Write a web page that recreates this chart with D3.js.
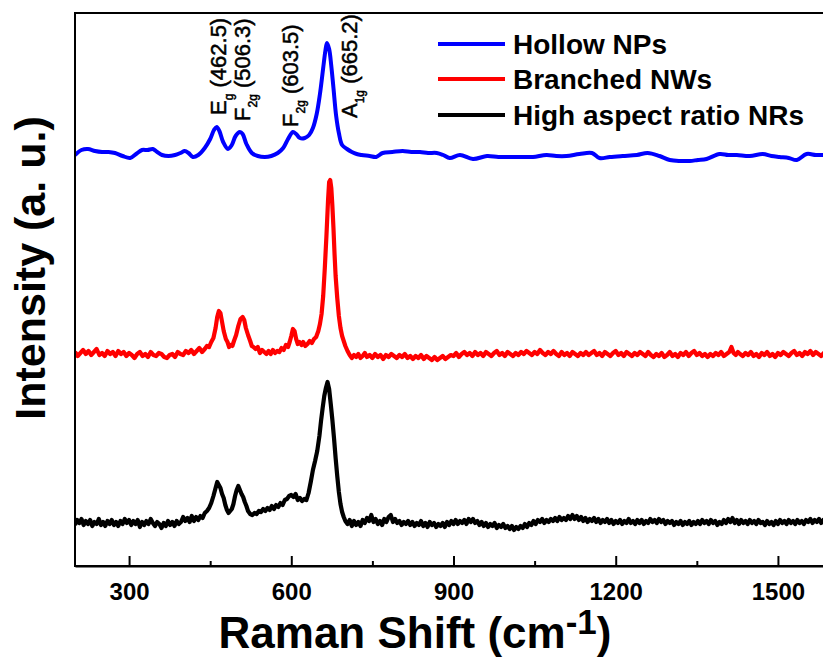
<!DOCTYPE html>
<html>
<head>
<meta charset="utf-8">
<script src="https://cdn.jsdelivr.net/npm/d3@7"></script>
<style>
  body { margin: 0; background: #fff; }
  text { font-family: "Liberation Sans", Arial, sans-serif; }
</style>
</head>
<body>
<div id="chart"></div>
<script>
// data (stacked spectra, intensity already offset as in the original plot)
const seriesNames = ["Hollow NPs", "Branched NWs", "High aspect ratio NRs"]
const seriesColors = ["#0000ff", "#ff0000", "#000000"]

const hollowNPs = [
  [200,4.11],[212,4.16],[224,4.17],[237,4.15],[250,4.14],[262,4.14],[274,4.13],[288,4.10],[302,4.08],
  [313,4.12],[324,4.16],[334,4.16],[344,4.17],[352,4.14],[361,4.11],[373,4.10],[385,4.11],[395,4.13],
  [403,4.15],[410,4.13],[418,4.09],[428,4.11],[440,4.18],[450,4.27],[457,4.36],[462,4.39],[467,4.35],
  [474,4.24],[483,4.17],[490,4.21],[497,4.30],[505,4.34],[510,4.32],[517,4.22],[527,4.13],[538,4.10],
  [551,4.09],[563,4.10],[575,4.13],[585,4.18],[594,4.27],[603,4.34],[609,4.32],[616,4.28],[625,4.28],
  [633,4.31],[640,4.38],[647,4.52],[653,4.72],[659,4.98],[663,5.15],[666,5.23],[670,5.17],[674,5.00],
  [678,4.78],[683,4.50],[688,4.33],[694,4.21],[703,4.17],[712,4.14],[721,4.12],[730,4.11],[745,4.10],
  [757,4.09],[769,4.13],[787,4.14],[806,4.15],[822,4.14],[838,4.14],[853,4.13],[869,4.13],[881,4.11],
  [893,4.08],[912,4.11],[936,4.07],[962,4.10],[983,4.09],[1004,4.09],[1025,4.09],[1047,4.09],[1072,4.11],
  [1090,4.10],[1109,4.10],[1133,4.12],[1156,4.13],[1170,4.08],[1189,4.09],[1213,4.10],[1239,4.11],
  [1259,4.13],[1281,4.10],[1300,4.06],[1320,4.05],[1337,4.05],[1352,4.06],[1368,4.07],[1392,4.12],
  [1408,4.11],[1424,4.11],[1448,4.10],[1472,4.12],[1488,4.10],[1503,4.09],[1520,4.08],[1535,4.06],
  [1553,4.12],[1570,4.11],[1583,4.11],[1600,4.11]
]

const branchedNWs = [
  [200,2.14],[205,2.10],[210,2.13],[215,2.16],[220,2.12],[225,2.15],[230,2.11],[235,2.14],[240,2.17],
  [245,2.11],[250,2.13],[255,2.10],[260,2.15],[265,2.12],[270,2.14],[275,2.10],[280,2.15],[285,2.12],
  [290,2.14],[295,2.10],[300,2.13],[305,2.11],[310,2.08],[315,2.12],[320,2.14],[325,2.10],[330,2.12],
  [335,2.09],[340,2.14],[345,2.11],[350,2.10],[355,2.13],[360,2.12],[365,2.09],[370,2.08],[375,2.11],
  [380,2.12],[385,2.09],[390,2.14],[395,2.12],[400,2.11],[405,2.15],[410,2.13],[415,2.16],[420,2.12],
  [425,2.15],[430,2.18],[435,2.14],[440,2.17],[444,2.20],[448,2.19],[452,2.24],[456,2.28],[460,2.38],
  [463,2.49],[466,2.55],[469,2.53],[472,2.44],[475,2.35],[479,2.27],[482,2.24],[485,2.19],[488,2.21],
  [491,2.20],[494,2.25],[498,2.31],[502,2.40],[506,2.47],[510,2.49],[513,2.46],[516,2.38],[520,2.31],
  [524,2.25],[527,2.20],[530,2.19],[534,2.17],[538,2.19],[542,2.13],[546,2.16],[550,2.14],[554,2.12],
  [558,2.15],[562,2.12],[566,2.16],[570,2.13],[574,2.15],[578,2.14],[582,2.18],[586,2.16],[590,2.21],
  [594,2.19],[597,2.24],[600,2.30],[603,2.37],[606,2.35],[609,2.27],[612,2.22],[615,2.24],[619,2.21],
  [622,2.24],[626,2.20],[630,2.22],[634,2.25],[638,2.23],[642,2.27],[646,2.29],[650,2.35],[653,2.42],
  [656,2.52],[659,2.70],[662,2.98],[665,3.30],[668,3.66],[670,3.84],[672,3.86],[674,3.78],[676,3.60],
  [678,3.38],[680,3.12],[682,2.90],[685,2.68],[688,2.50],[691,2.38],[694,2.30],[697,2.25],[700,2.20],
  [704,2.15],[708,2.11],[712,2.08],[716,2.11],[720,2.09],[724,2.12],[728,2.08],[732,2.10],[736,2.13],
  [740,2.09],[745,2.11],[750,2.08],[755,2.12],[760,2.09],[765,2.11],[770,2.07],[775,2.11],[780,2.09],
  [785,2.12],[790,2.10],[795,2.08],[800,2.11],[805,2.09],[810,2.12],[815,2.08],[820,2.10],[825,2.07],
  [830,2.10],[835,2.08],[840,2.11],[845,2.07],[850,2.10],[855,2.08],[860,2.06],[865,2.09],[870,2.06],
  [875,2.08],[880,2.10],[885,2.07],[890,2.09],[895,2.11],[900,2.10],[905,2.13],[910,2.09],[915,2.12],
  [920,2.14],[925,2.11],[930,2.13],[935,2.10],[940,2.14],[945,2.11],[950,2.13],[955,2.10],[960,2.14],
  [965,2.12],[970,2.10],[975,2.13],[980,2.15],[985,2.11],[990,2.13],[995,2.10],[1000,2.14],[1005,2.12],
  [1010,2.10],[1015,2.13],[1020,2.11],[1025,2.14],[1030,2.12],[1035,2.15],[1040,2.13],[1045,2.11],
  [1050,2.14],[1055,2.12],[1060,2.16],[1065,2.13],[1070,2.11],[1075,2.14],[1080,2.12],[1085,2.15],
  [1090,2.12],[1095,2.10],[1100,2.14],[1105,2.11],[1110,2.13],[1115,2.10],[1120,2.14],[1125,2.12],
  [1130,2.10],[1135,2.13],[1140,2.11],[1145,2.14],[1150,2.11],[1155,2.13],[1160,2.15],[1165,2.11],
  [1170,2.13],[1175,2.10],[1180,2.14],[1185,2.12],[1190,2.10],[1195,2.13],[1200,2.15],[1205,2.11],
  [1210,2.13],[1215,2.10],[1220,2.14],[1225,2.12],[1230,2.10],[1235,2.13],[1240,2.11],[1245,2.14],
  [1250,2.12],[1255,2.10],[1260,2.14],[1265,2.11],[1270,2.09],[1275,2.12],[1280,2.10],[1285,2.13],
  [1290,2.09],[1295,2.11],[1300,2.14],[1305,2.10],[1310,2.12],[1315,2.09],[1320,2.13],[1325,2.11],
  [1330,2.14],[1335,2.10],[1340,2.13],[1345,2.15],[1350,2.11],[1355,2.13],[1360,2.10],[1365,2.12],
  [1370,2.09],[1375,2.12],[1380,2.10],[1385,2.13],[1390,2.11],[1395,2.14],[1400,2.10],[1405,2.12],
  [1410,2.14],[1414,2.19],[1418,2.13],[1422,2.11],[1426,2.14],[1430,2.12],[1435,2.10],[1440,2.13],
  [1445,2.11],[1450,2.14],[1455,2.10],[1460,2.12],[1465,2.09],[1470,2.13],[1475,2.11],[1480,2.14],
  [1485,2.10],[1490,2.12],[1495,2.09],[1500,2.13],[1505,2.11],[1510,2.14],[1515,2.12],[1520,2.10],
  [1525,2.13],[1530,2.15],[1535,2.11],[1540,2.13],[1545,2.10],[1550,2.14],[1555,2.12],[1560,2.15],
  [1565,2.11],[1570,2.14],[1575,2.12],[1580,2.10],[1585,2.13],[1590,2.11],[1595,2.13],[1600,2.10]
]

const highAspectNRs = [
  [200,0.41],[204,0.46],[208,0.43],[212,0.47],[216,0.41],[220,0.45],[224,0.42],[228,0.46],[232,0.40],
  [236,0.44],[240,0.42],[244,0.47],[248,0.41],[252,0.44],[256,0.40],[260,0.45],[264,0.42],[268,0.46],
  [272,0.41],[276,0.44],[280,0.40],[284,0.45],[288,0.42],[292,0.47],[296,0.43],[300,0.46],[304,0.41],
  [308,0.45],[312,0.42],[316,0.46],[320,0.39],[324,0.44],[328,0.41],[332,0.45],[336,0.42],[340,0.47],
  [344,0.43],[348,0.40],[352,0.44],[356,0.42],[360,0.38],[364,0.43],[368,0.40],[372,0.45],[376,0.41],
  [380,0.44],[384,0.40],[388,0.45],[392,0.42],[396,0.44],[400,0.49],[404,0.45],[408,0.48],[412,0.44],
  [416,0.50],[420,0.45],[424,0.49],[428,0.46],[432,0.50],[436,0.48],[440,0.53],[444,0.55],[448,0.58],
  [452,0.63],[456,0.70],[460,0.78],[463,0.84],[466,0.81],[469,0.78],[472,0.72],[475,0.68],[478,0.61],
  [481,0.56],[484,0.53],[487,0.55],[490,0.57],[493,0.62],[496,0.70],[499,0.76],[502,0.80],[505,0.76],
  [508,0.72],[511,0.69],[514,0.64],[517,0.60],[520,0.55],[524,0.52],[528,0.51],[532,0.53],[536,0.52],
  [540,0.55],[544,0.54],[548,0.57],[552,0.55],[556,0.58],[560,0.56],[564,0.60],[568,0.57],[572,0.61],
  [576,0.59],[580,0.63],[584,0.61],[588,0.66],[592,0.67],[596,0.70],[600,0.71],[604,0.69],[608,0.72],
  [612,0.66],[616,0.68],[620,0.65],[624,0.67],[628,0.66],[632,0.73],[636,0.84],[640,0.96],[644,1.05],
  [648,1.15],[652,1.30],[655,1.45],[658,1.58],[661,1.70],[664,1.78],[667,1.84],[670,1.77],[673,1.62],
  [676,1.46],[679,1.28],[682,1.08],[685,0.90],[688,0.74],[691,0.62],[694,0.54],[697,0.49],[700,0.45],
  [704,0.42],[708,0.46],[712,0.40],[716,0.45],[720,0.41],[724,0.44],[728,0.40],[732,0.46],[736,0.43],
  [740,0.48],[744,0.45],[748,0.51],[752,0.44],[756,0.47],[760,0.42],[764,0.45],[768,0.41],[772,0.47],
  [776,0.44],[780,0.49],[784,0.51],[788,0.44],[792,0.47],[796,0.43],[800,0.45],[804,0.41],[808,0.44],
  [812,0.42],[816,0.45],[820,0.41],[824,0.44],[828,0.40],[832,0.43],[836,0.41],[840,0.45],[844,0.40],
  [848,0.43],[852,0.39],[856,0.44],[860,0.41],[864,0.43],[868,0.39],[872,0.42],[876,0.40],[880,0.43],
  [884,0.39],[888,0.44],[892,0.41],[896,0.45],[900,0.42],[904,0.46],[908,0.42],[912,0.45],[916,0.43],
  [920,0.46],[924,0.42],[928,0.47],[932,0.44],[936,0.47],[940,0.43],[944,0.45],[948,0.41],[952,0.44],
  [956,0.40],[960,0.43],[964,0.39],[968,0.42],[972,0.40],[976,0.43],[980,0.38],[984,0.41],[988,0.39],
  [992,0.42],[996,0.38],[1000,0.40],[1004,0.37],[1008,0.40],[1012,0.36],[1016,0.39],[1020,0.37],
  [1024,0.40],[1028,0.38],[1032,0.42],[1036,0.39],[1040,0.43],[1044,0.41],[1048,0.45],[1052,0.42],
  [1056,0.46],[1060,0.44],[1064,0.47],[1068,0.43],[1072,0.46],[1076,0.44],[1080,0.47],[1084,0.45],
  [1088,0.48],[1092,0.45],[1096,0.49],[1100,0.46],[1104,0.48],[1108,0.46],[1112,0.50],[1116,0.47],
  [1120,0.51],[1124,0.47],[1128,0.50],[1132,0.46],[1136,0.49],[1140,0.45],[1144,0.48],[1148,0.44],
  [1152,0.47],[1156,0.45],[1160,0.48],[1164,0.44],[1168,0.47],[1172,0.43],[1176,0.46],[1180,0.44],
  [1184,0.47],[1188,0.43],[1192,0.46],[1196,0.42],[1200,0.45],[1204,0.43],[1208,0.46],[1212,0.42],
  [1216,0.45],[1220,0.43],[1224,0.47],[1228,0.43],[1232,0.45],[1236,0.42],[1240,0.46],[1244,0.43],
  [1248,0.46],[1252,0.42],[1256,0.45],[1260,0.43],[1264,0.47],[1268,0.44],[1272,0.46],[1276,0.43],
  [1280,0.47],[1284,0.44],[1288,0.46],[1292,0.42],[1296,0.45],[1300,0.43],[1304,0.45],[1308,0.41],
  [1312,0.44],[1316,0.42],[1320,0.45],[1324,0.41],[1328,0.44],[1332,0.42],[1336,0.45],[1340,0.41],
  [1344,0.44],[1348,0.42],[1352,0.45],[1356,0.42],[1360,0.46],[1364,0.43],[1368,0.45],[1372,0.42],
  [1376,0.46],[1380,0.43],[1384,0.45],[1388,0.41],[1392,0.44],[1396,0.42],[1400,0.46],[1404,0.43],
  [1408,0.47],[1412,0.44],[1416,0.48],[1420,0.43],[1424,0.46],[1428,0.42],[1432,0.46],[1436,0.43],
  [1440,0.45],[1444,0.42],[1448,0.46],[1452,0.43],[1456,0.45],[1460,0.42],[1464,0.46],[1468,0.43],
  [1472,0.44],[1476,0.41],[1480,0.45],[1484,0.42],[1488,0.44],[1492,0.41],[1496,0.45],[1500,0.42],
  [1504,0.46],[1508,0.43],[1512,0.45],[1516,0.42],[1520,0.46],[1524,0.43],[1528,0.45],[1532,0.42],
  [1536,0.46],[1540,0.43],[1544,0.45],[1548,0.42],[1552,0.46],[1556,0.44],[1560,0.47],[1564,0.43],
  [1568,0.46],[1572,0.44],[1576,0.47],[1580,0.43],[1584,0.46],[1588,0.44],[1592,0.46],[1596,0.43],[1600,0.44]
]

// peak assignments
const peakModes = ["E", "F", "F", "A"]
const peakSubs = ["g", "2g", "2g", "1g"]
const peakShifts = ["462.5", "506.3", "603.5", "665.2"]
// where each label sits (cm-1, a.u.)
const peakLabelAt = [[479, 4.51], [523.5, 4.45], [612, 4.39], [721, 4.48]]

const majorTicks = [300, 600, 900, 1200, 1500]
const minorTicks = [450, 750, 1050, 1350]

// CHART
const width = 823
const height = 658
const margin = { top: 13, bottom: 92, left: 75 }
const plotBottom = height - margin.bottom
const plotRight = 832  // frame runs past the right edge of the picture

const svg = d3.select("div#chart").append("svg").attr("width", width).attr("height", height)

const x = d3.scaleLinear().domain([200, 1600]).range([margin.left, plotRight])
const y = d3.scaleLinear().domain([0, 5.53]).range([plotBottom, margin.top])

svg.append("defs").append("clipPath").attr("id", "plotClip")
    .append("rect").attr("x", margin.left).attr("y", margin.top)
    .attr("width", plotRight - margin.left).attr("height", plotBottom - margin.top)

const line = d3.line().x(d => x(d[0])).y(d => y(d[1]))
const smoothLine = d3.line().x(d => x(d[0])).y(d => y(d[1])).curve(d3.curveCatmullRom.alpha(0.5))

const lineGroup = svg.append("g").attr("clip-path", "url(#plotClip)")
const allSeries = [hollowNPs, branchedNWs, highAspectNRs]
allSeries.forEach((s, i) => {
    lineGroup.append("path")
        .datum(s)
        .attr("d", i === 0 ? smoothLine : line)
        .attr("fill", "none")
        .attr("stroke", seriesColors[i])
        .attr("stroke-width", i === 0 ? 4 : 4.2)
        .attr("stroke-linejoin", "round")
})

// frame
svg.append("rect")
    .attr("x", margin.left).attr("y", margin.top)
    .attr("width", plotRight - margin.left).attr("height", plotBottom - margin.top)
    .attr("fill", "none").attr("stroke", "#000").attr("stroke-width", 2)

// x axis
const xAxis = d3.axisBottom(x).tickValues(majorTicks).tickFormat(d3.format("d"))
    .tickSizeInner(-10).tickSizeOuter(0).tickPadding(17)
const xAxisGroup = svg.append("g").attr("transform", `translate(0, ${plotBottom})`).call(xAxis)
xAxisGroup.select(".domain").attr("stroke-width", 2)
xAxisGroup.selectAll(".tick line").attr("stroke-width", 2)
xAxisGroup.selectAll(".tick text")
    .attr("font-size", 24).attr("font-weight", "bold").attr("fill", "#000")

const minorAxis = d3.axisBottom(x).tickValues(minorTicks).tickSizeInner(-5).tickSizeOuter(0).tickFormat("")
const minorGroup = svg.append("g").attr("transform", `translate(0, ${plotBottom})`).call(minorAxis)
minorGroup.select(".domain").remove()
minorGroup.selectAll(".tick line").attr("stroke-width", 2)

// axis titles
const xTitle = svg.append("text")
    .attr("x", 415).attr("y", 648)
    .attr("text-anchor", "middle")
    .attr("font-size", 44).attr("font-weight", "bold")
xTitle.append("tspan").text("Raman Shift (cm")
xTitle.append("tspan").attr("font-size", 35).attr("dy", -14).text("-1")
xTitle.append("tspan").attr("dy", 14).text(")")

svg.append("text")
    .attr("transform", "translate(45, 268) rotate(-90)")
    .attr("text-anchor", "middle")
    .attr("font-size", 43).attr("font-weight", "bold")
    .text("Intensity (a. u.)")

// peak labels
peakModes.forEach((m, i) => {
    const t = svg.append("text")
        .attr("transform", `translate(${x(peakLabelAt[i][0])}, ${y(peakLabelAt[i][1])}) rotate(-90)`)
        .attr("font-size", 22)
        .attr("stroke", "#000").attr("stroke-width", 0.5)
    t.append("tspan").text(m)
    t.append("tspan").attr("font-size", 12).attr("dy", 7).text(peakSubs[i])
    t.append("tspan").attr("dy", -7).text(` (${peakShifts[i]})`)
})

// legend
const legend = svg.append("g")
const legendRows = [44, 79, 115]
seriesNames.forEach((name, i) => {
    legend.append("line")
        .attr("x1", 438).attr("x2", 505)
        .attr("y1", legendRows[i]).attr("y2", legendRows[i])
        .attr("stroke", seriesColors[i]).attr("stroke-width", 4)
    legend.append("text")
        .attr("x", 513).attr("y", legendRows[i] + 10)
        .attr("font-size", 28).attr("font-weight", "bold")
        .text(name)
})
</script>
</body>
</html>
